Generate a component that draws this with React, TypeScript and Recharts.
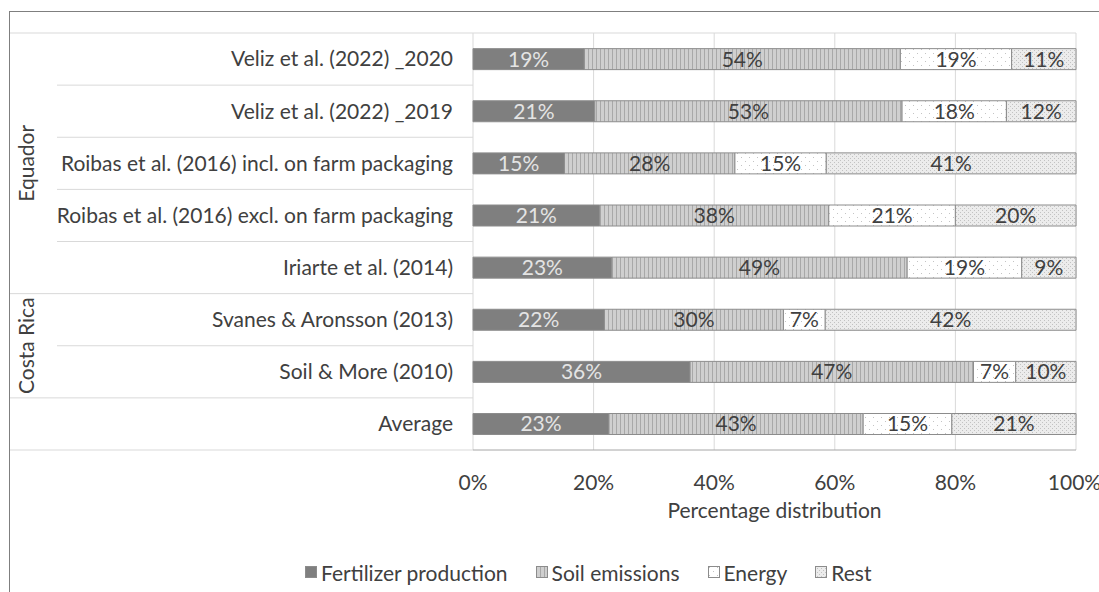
import { Bar, BarChart, CartesianGrid, LabelList, Legend, XAxis, YAxis } from "recharts";

const CATEGORIES = [
  "Veliz et al. (2022) _2020",
  "Veliz et al. (2022) _2019",
  "Roibas et al. (2016) incl. on farm packaging",
  "Roibas et al. (2016) excl. on farm packaging",
  "Iriarte et al. (2014)",
  "Svanes & Aronsson (2013)",
  "Soil & More (2010)",
  "Average",
];
const FERTILIZER = [19, 21, 15, 21, 23, 22, 36, 23];
const SOIL = [54, 53, 28, 38, 49, 30, 47, 43];
const ENERGY = [19, 18, 15, 21, 19, 7, 7, 15];
const REST = [11, 12, 41, 20, 9, 42, 10, 21];

// rows per group on the outer category level
const GROUP_NAMES = ["Equador", "Costa Rica", ""];
const GROUP_ROWS = [5, 2, 1];

const X_TICKS = [0, 0.2, 0.4, 0.6, 0.8, 1];

const FONT = "Lato, 'Open Sans', sans-serif";
const FONT_SIZE = 21;
const TEXT = "#404040";
const LINE = "#d9d9d9";

const SERIES = [
  { key: "fert", name: "Fertilizer production", fill: "#7f7f7f", label: "#e4e4e4" },
  { key: "soil", name: "Soil emissions", fill: "url(#soilPattern)", label: TEXT },
  { key: "energy", name: "Energy", fill: "url(#energyPattern)", label: TEXT },
  { key: "rest", name: "Rest", fill: "url(#restPattern)", label: TEXT },
];

const data = CATEGORIES.map((name, i) => ({
  name,
  fert: FERTILIZER[i],
  soil: SOIL[i],
  energy: ENERGY[i],
  rest: REST[i],
}));

const groupStarts: Record<number, number> = {};
GROUP_ROWS.reduce((start, rows, g) => {
  groupStarts[start] = g;
  return start + rows;
}, 0);

function CategoryTick(props: any) {
  const { x, y, payload, index } = props;
  const half = payload?.offset || 26;
  const top = y - half;
  const g = groupStarts[index];
  const isStart = g !== undefined;
  const isLast = index === CATEGORIES.length - 1;
  const gy = top + (isStart ? GROUP_ROWS[g] : 0) * half;
  return (
    <g>
      <line x1={isStart ? 10 : 57} x2={x + 20} y1={top} y2={top} stroke={LINE} />
      {isLast && <line x1={10} x2={x + 20} y1={y + half} y2={y + half} stroke={LINE} />}
      {isStart && GROUP_NAMES[g] && (
        <text
          x={25}
          y={gy}
          transform={`rotate(-90 25 ${gy})`}
          textAnchor="middle"
          dominantBaseline="central"
          fill={TEXT}
          fontFamily={FONT}
          fontSize={FONT_SIZE}
        >
          {GROUP_NAMES[g]}
        </text>
      )}
      <text
        x={x}
        y={y}
        dy="0.35em"
        textAnchor="end"
        fill={TEXT}
        fontFamily={FONT}
        fontSize={FONT_SIZE}
      >
        {payload.value}
      </text>
    </g>
  );
}

function LegendContent() {
  return (
    <div
      style={{
        display: "flex",
        alignItems: "center",
        height: 24,
        paddingLeft: 305,
        fontFamily: FONT,
        fontSize: FONT_SIZE,
        color: TEXT,
      }}
    >
      {SERIES.map((s) => (
        <div key={s.key} style={{ display: "flex", alignItems: "center", marginRight: 28 }}>
          <svg width={12} height={12} style={{ marginRight: 4 }}>
            <rect x={0.5} y={0.5} width={11} height={11} fill={s.fill} stroke="#8c8c8c" />
          </svg>
          <span>{s.name}</span>
        </div>
      ))}
    </div>
  );
}

export default function App() {
  return (
    <div style={{ position: "absolute", left: 0, top: 0, width: 1099, height: 592, background: "#fff", overflow: "hidden" }}>
      <div
        style={{
          position: "absolute",
          left: 9,
          top: 11,
          width: 1200,
          height: 700,
          borderLeft: "1px solid #7f7f7f",
          borderTop: "1px solid #7f7f7f",
        }}
      />
      <svg width={0} height={0} style={{ position: "absolute" }}>
        <defs>
          <pattern id="soilPattern" width={4} height={4} patternUnits="userSpaceOnUse">
            <rect width={4} height={4} fill="#cfcfcf" />
            <rect width={1} height={4} fill="#a8a8a8" />
          </pattern>
          <pattern id="energyPattern" width={8} height={8} patternUnits="userSpaceOnUse">
            <rect width={8} height={8} fill="#ffffff" />
            <rect x={1} y={1} width={1} height={1} fill="#c4c4c4" />
            <rect x={5} y={5} width={1} height={1} fill="#c4c4c4" />
          </pattern>
          <pattern id="restPattern" width={4} height={4} patternUnits="userSpaceOnUse">
            <rect width={4} height={4} fill="#ececec" />
            <rect x={0} y={0} width={1} height={1} fill="#c2c2c2" />
            <rect x={2} y={2} width={1} height={1} fill="#c2c2c2" />
          </pattern>
        </defs>
      </svg>
      <div style={{ position: "absolute", left: 0, top: 0 }}>
        <BarChart
          width={1099}
          height={592}
          data={data}
          layout="vertical"
          stackOffset="expand"
          barCategoryGap="30%"
          margin={{ top: 33, right: 23, left: 0, bottom: 8 }}
        >
          <CartesianGrid
            stroke={LINE}
            horizontalCoordinatesGenerator={({ offset }: any) => [offset.top]}
          />
          <XAxis
            type="number"
            domain={[0, 1]}
            ticks={X_TICKS}
            tickFormatter={(v: number) => `${Math.round(v * 100)}%`}
            axisLine={{ stroke: "#a6a6a6" }}
            tickLine={false}
            tickSize={0}
            tickMargin={25}
            height={110}
            tick={{ fill: TEXT, fontFamily: FONT, fontSize: FONT_SIZE }}
            label={{
              value: "Percentage distribution",
              position: "insideBottom",
              offset: 42,
              fill: TEXT,
              fontFamily: FONT,
              fontSize: FONT_SIZE,
            }}
          />
          <YAxis
            type="category"
            dataKey="name"
            width={473}
            axisLine={false}
            tickLine={false}
            tickSize={0}
            tickMargin={20}
            interval={0}
            tick={<CategoryTick />}
          />
          <Legend verticalAlign="bottom" wrapperStyle={{ left: 0, width: 1099 }} content={<LegendContent />} />
          {SERIES.map((s) => (
            <Bar
              key={s.key}
              dataKey={s.key}
              name={s.name}
              stackId="a"
              fill={s.fill}
              stroke="#8c8c8c"
              strokeWidth={1}
              isAnimationActive={false}
            >
              <LabelList
                dataKey={s.key}
                position="center"
                formatter={(v: any) => `${v}%`}
                fill={s.label}
                fontFamily={FONT}
                fontSize={FONT_SIZE}
              />
            </Bar>
          ))}
        </BarChart>
      </div>
    </div>
  );
}
